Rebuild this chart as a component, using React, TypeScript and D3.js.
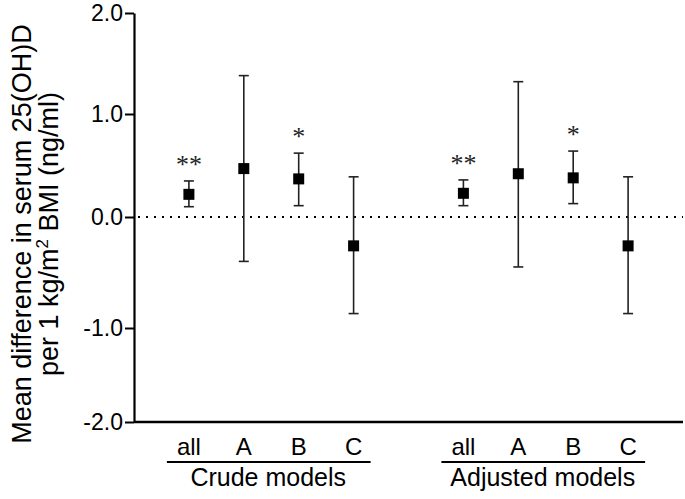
import React, { useRef, useEffect } from "react"
import * as d3 from "d3"

const subgroups = ["all", "A", "B", "C"]
const groups = ["Crude models", "Adjusted models"]

const crudeMean = [0.22, 0.47, 0.37, -0.26]
const crudeLow = [0.1, -0.4, 0.11, -0.87]
const crudeHigh = [0.35, 1.38, 0.62, 0.39]
const crudeStars = ["**", "", "*", ""]

const adjMean = [0.23, 0.42, 0.38, -0.26]
const adjLow = [0.11, -0.45, 0.13, -0.87]
const adjHigh = [0.36, 1.32, 0.64, 0.39]
const adjStars = ["**", "", "*", ""]

const yTicks = [-2, -1, 0, 1, 2]

interface Point {
  slot: number
  label: string
  mean: number
  low: number
  high: number
  star: string
}

export default function App() {
  const svgRef = useRef<SVGSVGElement>(null)
  const width = 685
  const height = 499

  useEffect(() => {
    if (!svgRef.current) return
    const svg = d3.select(svgRef.current)
    svg.selectAll("*").remove()

    const series = [
      { mean: crudeMean, low: crudeLow, high: crudeHigh, stars: crudeStars },
      { mean: adjMean, low: adjLow, high: adjHigh, stars: adjStars },
    ]
    const points: Point[] = []
    series.forEach((s, g) => {
      subgroups.forEach((label, i) => {
        points.push({
          slot: g * 5 + i + 1,
          label,
          mean: s.mean[i],
          low: s.low[i],
          high: s.high[i],
          star: s.stars[i],
        })
      })
    })

    const x = d3.scaleLinear().domain([0, 10]).range([134, 683])
    // the printed axis is not quite evenly spaced, follow its ticks
    const y = d3
      .scaleLinear()
      .domain([-2, -1, 0, 1, 2])
      .range([422, 328, 217, 114, 13])

    const font = "Liberation Sans, Arial, sans-serif"

    // y axis
    const yAxis = svg
      .append("g")
      .attr("transform", `translate(${x(0)},0)`)
      .call(
        d3
          .axisLeft(y)
          .tickValues(yTicks)
          .tickSize(9)
          .tickSizeOuter(0)
          .tickFormat((d) => Number(d).toFixed(1)),
      )
    yAxis.select(".domain").attr("stroke", "#000").attr("stroke-width", 2.2)
    yAxis.selectAll(".tick line").attr("stroke", "#000").attr("stroke-width", 2)
    yAxis
      .selectAll(".tick text")
      .attr("fill", "#000")
      .attr("font-family", font)
      .attr("font-size", 23)
      .attr("x", -11)

    // x axis line
    svg
      .append("line")
      .attr("x1", x(0))
      .attr("x2", x(10))
      .attr("y1", y(-2))
      .attr("y2", y(-2))
      .attr("stroke", "#000")
      .attr("stroke-width", 2.6)

    // zero reference
    svg
      .append("line")
      .attr("x1", x(0) + 4)
      .attr("x2", x(10))
      .attr("y1", y(0))
      .attr("y2", y(0))
      .attr("stroke", "#000")
      .attr("stroke-width", 2)
      .attr("stroke-dasharray", "2,6")

    // error bars
    const bars = svg.append("g").selectAll("g").data(points).enter().append("g")
    bars
      .append("line")
      .attr("x1", (d) => x(d.slot))
      .attr("x2", (d) => x(d.slot))
      .attr("y1", (d) => y(d.low))
      .attr("y2", (d) => y(d.high))
      .attr("stroke", "#222")
      .attr("stroke-width", 1.6)
    bars
      .selectAll(".cap")
      .data((d) => [d.low, d.high].map((v) => ({ slot: d.slot, v })))
      .enter()
      .append("line")
      .attr("x1", (d) => x(d.slot) - 5)
      .attr("x2", (d) => x(d.slot) + 5)
      .attr("y1", (d) => y(d.v))
      .attr("y2", (d) => y(d.v))
      .attr("stroke", "#222")
      .attr("stroke-width", 1.6)
    bars
      .append("rect")
      .attr("x", (d) => x(d.slot) - 5.5)
      .attr("y", (d) => y(d.mean) - 5.5)
      .attr("width", 11)
      .attr("height", 11)
      .attr("fill", "#000")
    bars
      .filter((d) => d.star !== "")
      .append("text")
      .attr("x", (d) => x(d.slot))
      .attr("y", (d) => y(d.high) - 8)
      .attr("text-anchor", "middle")
      .attr("font-family", "Liberation Serif, Times New Roman, serif")
      .attr("font-size", 26)
      .attr("fill", "#222")
      .text((d) => d.star)

    // category labels
    svg
      .append("g")
      .selectAll("text")
      .data(points)
      .enter()
      .append("text")
      .attr("x", (d) => x(d.slot))
      .attr("y", 455)
      .attr("text-anchor", "middle")
      .attr("font-family", font)
      .attr("font-size", 24)
      .attr("fill", "#000")
      .text((d) => d.label)

    // group labels with underline
    const grp = svg
      .append("g")
      .selectAll("g")
      .data(groups)
      .enter()
      .append("g")
    grp
      .append("line")
      .attr("x1", (_, g) => x(g * 5 + 1) - 22)
      .attr("x2", (_, g) => x(g * 5 + 4) + 17)
      .attr("y1", 462)
      .attr("y2", 462)
      .attr("stroke", "#000")
      .attr("stroke-width", 2)
    grp
      .append("text")
      .attr("x", (_, g) => (x(g * 5 + 1) + x(g * 5 + 4)) / 2 - 3)
      .attr("y", 486)
      .attr("text-anchor", "middle")
      .attr("font-family", font)
      .attr("font-size", 25)
      .attr("fill", "#000")
      .text((d) => d)

    // y axis title
    const title = svg
      .append("text")
      .attr("transform", `translate(0,234) rotate(-90)`)
      .attr("text-anchor", "middle")
      .attr("font-family", font)
      .attr("font-size", 27)
      .attr("fill", "#000")
    title.append("tspan").attr("x", 0).attr("y", 31).text("Mean difference in serum 25(OH)D")
    const l2 = title.append("tspan").attr("x", 0).attr("y", 58)
    l2.append("tspan").text("per 1 kg/m")
    l2.append("tspan").attr("font-size", 17).attr("dy", -10).text("2")
    l2.append("tspan").attr("dy", 10).text(" BMI (ng/ml)")
  }, [])

  return (
    <svg
      ref={svgRef}
      width={width}
      height={height}
      style={{ position: "absolute", left: 0, top: 0, background: "#fff" }}
    ></svg>
  )
}
